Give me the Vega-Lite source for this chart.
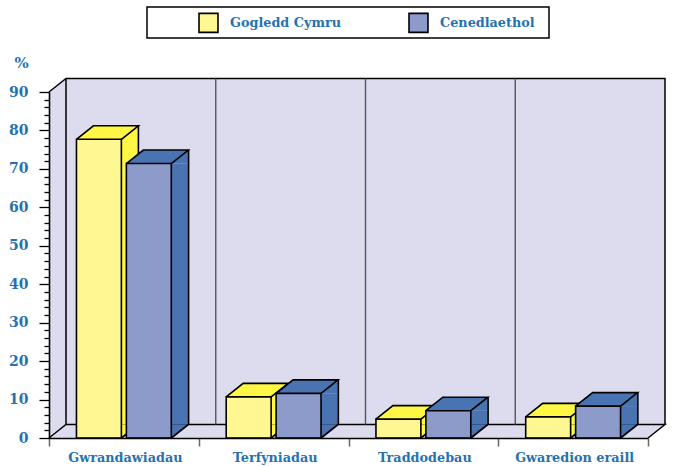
{"$schema":"https://vega.github.io/schema/vega-lite/v6.json","width":599,"height":346,"autosize":{"type":"none"},"padding":{"left":49,"top":92,"right":25,"bottom":28},"background":"white","view":{"stroke":null},
"data":{"values":[
{"category":"Gwrandawiadau","series":"Gogledd Cymru","value":77.7},
{"category":"Terfyniadau","series":"Gogledd Cymru","value":10.7},
{"category":"Traddodebau","series":"Gogledd Cymru","value":4.9},
{"category":"Gwaredion eraill","series":"Gogledd Cymru","value":5.5},
{"category":"Gwrandawiadau","series":"Cenedlaethol","value":71.4},
{"category":"Terfyniadau","series":"Cenedlaethol","value":11.6},
{"category":"Traddodebau","series":"Cenedlaethol","value":7.1},
{"category":"Gwaredion eraill","series":"Cenedlaethol","value":8.3}]},
"encoding":{"x":{"field":"category","type":"nominal","scale":{"domain":["Gwrandawiadau","Terfyniadau","Traddodebau","Gwaredion eraill"],"paddingInner":0,"paddingOuter":0},"axis":{"title":null,"labelAngle":0,"labelFont":"DejaVu Serif","labelFontWeight":"bold","labelFontSize":12.8,"labelColor":"#2672b0","labelPadding":5,"labelOffset":1,"tickBand":"extent","tickSize":8,"tickColor":"#666666","tickWidth":1.5,"domainColor":"#000000","domainWidth":1.6,"zindex":1}},
"xOffset":{"field":"series","type":"nominal","sort":["Gogledd Cymru","Cenedlaethol"],"scale":{"domain":["Gogledd Cymru","Cenedlaethol"],"paddingInner":0.1,"paddingOuter":0.55}}},
"layer":[
{"transform":[{"filter":"datum.series=='Gogledd Cymru' && datum.category=='Gwrandawiadau'"}],
"mark":{"type":"point","filled":true,"fill":"#dcdcee","stroke":null,"size":4,"opacity":1,"shape":"M0,0 L0,-346 L17,-359.5 L616,-359.5 L616,-13.5 L599,0 Z"},
"encoding":{"x":{"field":"category","type":"nominal","bandPosition":0},"xOffset":{"value":0},"y":{"datum":0,"type":"quantitative"}}},
{"transform":[{"filter":"datum.series=='Gogledd Cymru' && datum.category=='Gwrandawiadau'"}],
"mark":{"type":"point","filled":false,"stroke":"#000000","strokeWidth":1.5,"size":4,"opacity":1,"shape":"M0,0 L17,-13.5 L616,-13.5 L599,0 M0,-346 L17,-359.5 L616,-359.5 L616,-13.5 M17,-359.5 L17,-13.5"},
"encoding":{"x":{"field":"category","type":"nominal","bandPosition":0},"xOffset":{"value":0},"y":{"datum":0,"type":"quantitative"}}},
{"transform":[{"filter":"datum.series=='Gogledd Cymru' && datum.category!='Gwrandawiadau'"}],
"mark":{"type":"rule","stroke":"#555555","strokeWidth":1.4,"yOffset":-13.5,"y2Offset":-13.5},
"encoding":{"x":{"field":"category","type":"nominal","bandPosition":0},"xOffset":{"value":17},"y":{"datum":0,"type":"quantitative"},"y2":{"datum":90}}},
{"transform":[{"filter":"datum.series=='Gogledd Cymru' && datum.category=='Gwrandawiadau'"}],
"mark":{"type":"point","filled":true,"fill":"#ffffff","stroke":"#000000","strokeWidth":1.5,"size":4,"opacity":1,"shape":"M98,-431 L500,-431 L500,-400 L98,-400 Z"},
"encoding":{"x":{"field":"category","type":"nominal","bandPosition":0},"xOffset":{"value":0},"y":{"datum":0,"type":"quantitative"}}},
{"transform":[{"filter":"datum.series=='Gogledd Cymru'"}],"layer":[
{"mark":{"type":"point","filled":true,"fill":"#fff744","stroke":null,"size":4,"opacity":1,"shape":"M-22.5,0 L39.5,0 L39.5,-13.5 L-5.5,-13.5 Z"},"encoding":{"y":{"field":"value","type":"quantitative"}}},
{"mark":{"type":"rule","stroke":"#fff744","strokeWidth":17,"y2Offset":-13.5},"encoding":{"x":{"field":"category","type":"nominal","bandPosition":0},"xOffset":{"value":80.9},"y":{"field":"value","type":"quantitative"},"y2":{"datum":0}}},
{"mark":{"type":"point","filled":true,"fill":"#fff744","stroke":null,"size":4,"opacity":1,"shape":"M22.5,0 L39.5,-13.5 L22.5,-13.5 Z"},"encoding":{"y":{"datum":0,"type":"quantitative"}}},
{"mark":{"type":"point","filled":false,"stroke":"#000000","strokeWidth":1.6,"size":4,"opacity":1,"shape":"M-22.5,0 L-5.5,-13.5 L39.5,-13.5 L22.5,0"},"encoding":{"y":{"field":"value","type":"quantitative"}}},
{"mark":{"type":"point","filled":false,"stroke":"#000000","strokeWidth":1.6,"size":4,"opacity":1,"shape":"M22.5,0 L39.5,-13.5"},"encoding":{"y":{"datum":0,"type":"quantitative"}}},
{"mark":{"type":"rule","stroke":"#000000","strokeWidth":1.6,"yOffset":-13.5,"y2Offset":-13.5},"encoding":{"x":{"field":"category","type":"nominal","bandPosition":0},"xOffset":{"value":89.4},"y":{"field":"value","type":"quantitative"},"y2":{"datum":0}}}
]},
{"transform":[{"filter":"datum.series=='Cenedlaethol'"}],"layer":[
{"mark":{"type":"point","filled":true,"fill":"#4a73b2","stroke":null,"size":4,"opacity":1,"shape":"M-22.5,0 L39.5,0 L39.5,-13.5 L-5.5,-13.5 Z"},"encoding":{"y":{"field":"value","type":"quantitative"}}},
{"mark":{"type":"rule","stroke":"#4a73b2","strokeWidth":17,"y2Offset":-13.5},"encoding":{"x":{"field":"category","type":"nominal","bandPosition":0},"xOffset":{"value":130.8},"y":{"field":"value","type":"quantitative"},"y2":{"datum":0}}},
{"mark":{"type":"point","filled":true,"fill":"#4a73b2","stroke":null,"size":4,"opacity":1,"shape":"M22.5,0 L39.5,-13.5 L22.5,-13.5 Z"},"encoding":{"y":{"datum":0,"type":"quantitative"}}},
{"mark":{"type":"point","filled":false,"stroke":"#000000","strokeWidth":1.6,"size":4,"opacity":1,"shape":"M-22.5,0 L-5.5,-13.5 L39.5,-13.5 L22.5,0"},"encoding":{"y":{"field":"value","type":"quantitative"}}},
{"mark":{"type":"point","filled":false,"stroke":"#000000","strokeWidth":1.6,"size":4,"opacity":1,"shape":"M22.5,0 L39.5,-13.5"},"encoding":{"y":{"datum":0,"type":"quantitative"}}},
{"mark":{"type":"rule","stroke":"#000000","strokeWidth":1.6,"yOffset":-13.5,"y2Offset":-13.5},"encoding":{"x":{"field":"category","type":"nominal","bandPosition":0},"xOffset":{"value":139.6},"y":{"field":"value","type":"quantitative"},"y2":{"datum":0}}}
]},
{"mark":{"type":"bar","stroke":"#000000","strokeWidth":1.6},
"encoding":{"y":{"field":"value","type":"quantitative","stack":null,"scale":{"domain":[0,90],"nice":false},
"axis":{"title":"%","titleAngle":0,"titleFont":"DejaVu Serif","titleFontWeight":"bold","titleFontSize":15,"titleColor":"#2672b0","titleX":-35,"titleY":-30,"titleAlign":"left","titleBaseline":"middle","tickCount":46,"values":[0,2,4,6,8,10,12,14,16,18,20,22,24,26,28,30,32,34,36,38,40,42,44,46,48,50,52,54,56,58,60,62,64,66,68,70,72,74,76,78,80,82,84,86,88,90],"labelExpr":"datum.value%10==0?datum.label:''","labelOverlap":false,"labelFont":"DejaVu Serif","labelFontWeight":"bold","labelFontSize":14,"labelColor":"#2672b0","labelPadding":11,"grid":false,"tickColor":"#000000","tickWidth":1.3,"tickSize":{"condition":{"test":"datum.value%10==0","value":10},"value":5},"domainColor":"#000000","domainWidth":1.6,"zindex":1}},
"fill":{"field":"series","type":"nominal","scale":{"domain":["Gogledd Cymru","Cenedlaethol"],"range":["#fff792","#8c9bc9"]},
"legend":{"title":null,"orient":"none","direction":"horizontal","legendX":149,"legendY":-80,"symbolType":"square","symbolSize":360,"symbolStrokeColor":"#000000","symbolStrokeWidth":1.6,"symbolOpacity":1,"labelFont":"DejaVu Serif","labelFontWeight":"bold","labelFontSize":12.8,"labelColor":"#2672b0","labelOffset":11,"columnPadding":64,"padding":0}}}}
]}
